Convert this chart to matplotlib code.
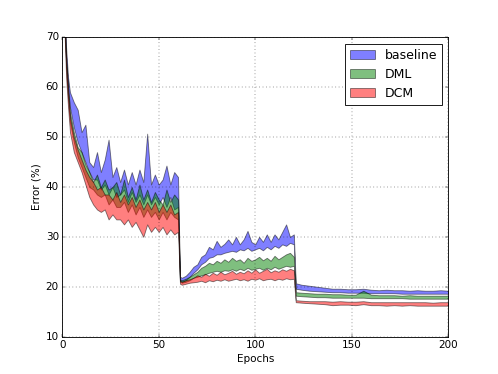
import matplotlib
matplotlib.use('Agg')
import matplotlib.pyplot as plt

epochs = ([0, 1, 2, 3, 4] + list(range(6, 61, 2)) + [61] + list(range(62, 121, 2))
          + [121] + list(range(124, 201, 4)))

baseline_hi = [90, 78, 68, 62, 59, 57, 55.5, 51, 52.5, 45, 44, 47, 43, 45.5, 49.5, 42, 44, 41,
               43.5, 40.5, 43, 40.5, 43.5, 41, 50.7, 40.5, 42.5, 40.5, 41.5, 44.3, 40.5, 43, 42,
               22, 21.8, 22.2, 23, 24, 24.5, 26, 26.5, 28, 27.5, 29.2, 28, 28.6, 29.5, 28.5, 30,
               28.5, 29.5, 31.2, 29, 28.5, 30, 29, 30.5, 29, 30.5, 29.5, 31, 32.5, 30, 30.5,
               20.7, 20.4, 20.2, 20, 19.8, 19.6, 19.6, 19.5, 19.5, 19.6, 19.4, 19.3, 19.4, 19.3,
               19.3, 19.2, 19.3, 19.2, 19.2, 19.3, 19.2]
baseline_lo = [88, 75, 66, 60, 56, 52, 49, 47, 45, 43, 41.5, 41.5, 39.5, 40.5, 38.5, 40, 38, 38.5,
               39.5, 37, 39, 37, 38.5, 36.5, 38.5, 36.5, 38, 36.5, 38, 36, 38, 35.5, 36,
               21.2, 21, 21.3, 22, 22.8, 23.5, 24.5, 25, 25.8, 26, 26.5, 26.5, 26.8, 27, 27.2, 27,
               27.5, 27.3, 27.8, 27.2, 27.5, 27.8, 27.3, 28, 27.5, 28.2, 27.8, 28.5, 28.2, 28.8, 28.5,
               19.6, 19.4, 19.2, 19.1, 19, 18.9, 18.9, 18.8, 18.8, 18.8, 18.7, 18.7, 18.7, 18.7,
               18.6, 18.6, 18.6, 18.6, 18.6, 18.6, 18.6]

dml_hi = [88, 76, 66, 60, 55, 51, 48, 47, 44.5, 43, 41, 42.5, 40, 41.5, 39.5, 40, 41, 38.5,
          41.5, 38, 40, 37.5, 40.5, 37.5, 39.5, 37, 39, 37.5, 36.5, 39.5, 37, 38.5, 37.5,
          21.5, 21.3, 21.6, 22, 22.5, 23, 23.8, 24.2, 24.8, 24.5, 25.2, 24.8, 25.5, 25, 25.8, 25.2,
          25.5, 24.8, 25.8, 25.2, 25.5, 26, 25.3, 25.8, 25.2, 26.2, 25.5, 26, 26.5, 26.8, 26,
          18.9, 18.8, 18.7, 18.6, 18.6, 18.5, 18.5, 18.4, 18.4, 19.2, 18.4, 18.3, 18.3, 18.3,
          18.2, 18.3, 18.2, 18.2, 18.2, 18.2, 18.2]
dml_lo = [86, 74, 64, 58, 53, 49, 46, 44, 42, 40, 39.5, 38.5, 38, 38.5, 36.5, 37.5, 36, 36,
          37, 35, 36.5, 34.5, 36, 34, 35.5, 34, 35, 33.5, 35, 33.5, 35, 34, 33.5,
          21, 20.8, 21, 21.3, 21.8, 22, 22.3, 22.5, 22.8, 23, 23.2, 23, 23.3, 23.2, 23.5, 23.2,
          23.6, 23.3, 23.8, 23.4, 23.6, 23.8, 23.4, 23.8, 23.5, 24, 23.6, 23.9, 24.2, 24, 24.2,
          18.2, 18.1, 18, 17.9, 17.9, 17.8, 17.8, 17.8, 17.8, 17.8, 17.7, 17.7, 17.7, 17.7,
          17.7, 17.6, 17.6, 17.6, 17.6, 17.6, 17.6]

dcm_hi = [87, 75, 65, 59, 54, 50, 47.5, 45.5, 43.5, 42, 41, 39.5, 40, 38.5, 38.5, 37.5, 39, 37,
          38.5, 36.5, 38, 36, 37.5, 35.5, 37, 35.5, 37, 35, 36.5, 35, 36.5, 34.5, 35,
          21.2, 21, 21.3, 21.5, 21.8, 22.3, 22, 22.6, 22.2, 22.8, 22.4, 23, 22.5, 22.8, 23.2, 22.6,
          23, 22.7, 23.3, 22.8, 23.5, 22.8, 23.2, 23.6, 22.9, 23.3, 23, 23.5, 23.2, 23.6, 23.3,
          17.3, 17.2, 17.1, 17.1, 17.1, 17, 17.1, 17, 17, 17.1, 16.9, 16.9, 16.9, 16.9,
          16.9, 16.9, 16.9, 16.9, 16.8, 16.9, 16.9]
dcm_lo = [85, 73, 62, 56, 51, 47, 45, 43, 40.5, 38, 36.5, 35.5, 35, 35.5, 33.5, 34.5, 33.5, 33.5,
          32.5, 33.5, 32, 33, 31.5, 30, 32.5, 31, 32, 31, 32, 30.5, 31.5, 30.5, 31,
          20.6, 20.4, 20.6, 20.8, 20.9, 21, 21.2, 20.9, 21.3, 21.1, 21.4, 21.2, 21.5, 21.2, 21.4, 21.6,
          21.3, 21.5, 21.2, 21.6, 21.4, 21.7, 21.3, 21.5, 21.6, 21.3, 21.6, 21.4, 21.7, 21.5, 21.6,
          16.9, 16.8, 16.7, 16.6, 16.5, 16.3, 16.4, 16.4, 16.3, 16.5, 16.3, 16.3, 16.2, 16.3,
          16.2, 16.3, 16.2, 16.2, 16.2, 16.2, 16.2]

plt.style.use('classic')
fig = plt.figure(figsize=(8, 374 / 62.25), facecolor='white')
ax = fig.add_subplot(111)

ax.fill_between(epochs, baseline_lo, baseline_hi, facecolor='b', alpha=0.5, label='baseline')
ax.fill_between(epochs, dml_lo, dml_hi, facecolor='g', alpha=0.5, label='DML')
ax.fill_between(epochs, dcm_lo, dcm_hi, facecolor='r', alpha=0.5, label='DCM')

ax.set_xlim(0, 200)
ax.set_ylim(10, 70)
ax.set_xlabel('Epochs')
ax.set_ylabel('Error (%)')
ax.grid(True)
ax.legend(loc='upper right')

fig.savefig('out.png', dpi=62.25, facecolor='white')
